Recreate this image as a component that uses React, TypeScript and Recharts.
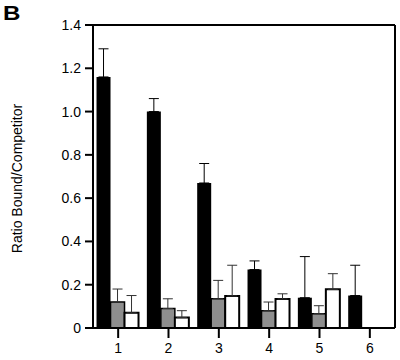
import { Bar, BarChart, ErrorBar, XAxis, YAxis } from "recharts";

const categories = ["1", "2", "3", "4", "5", "6"];
const blackValues = [1.16, 1.0, 0.67, 0.27, 0.14, 0.15];
const blackErrors = [0.13, 0.06, 0.09, 0.04, 0.19, 0.14];
const greyValues = [0.12, 0.09, 0.135, 0.08, 0.066, null];
const greyErrors = [0.06, 0.045, 0.085, 0.04, 0.037, null];
const whiteValues = [0.07, 0.048, 0.148, 0.134, 0.179, null];
const whiteErrors = [0.08, 0.032, 0.142, 0.024, 0.072, null];
const yTicks = [0, 0.2, 0.4, 0.6, 0.8, 1.0, 1.2, 1.4];

const data = categories.map((c, i) => ({
  name: c,
  black: blackValues[i],
  blackErr: [0, blackErrors[i]],
  grey: greyValues[i],
  greyErr: greyErrors[i] == null ? null : [0, greyErrors[i]],
  white: whiteValues[i],
  whiteErr: whiteErrors[i] == null ? null : [0, whiteErrors[i]],
}));

const FONT = "'Liberation Sans', Arial, Helvetica, sans-serif";
const tickStyle = { fill: "#000", fontSize: 14, fontFamily: FONT };
const line = { stroke: "#000", strokeWidth: 2 };

function YLabel({ viewBox }: any) {
  const cy = viewBox.y + viewBox.height / 2 + 2;
  return (
    <text
      x={17}
      y={cy}
      transform={`rotate(-90 17 ${cy})`}
      textAnchor="middle"
      dominantBaseline="central"
      fontSize={14}
      fontFamily={FONT}
      fill="#000"
    >
      Ratio Bound/Competitor
    </text>
  );
}

export default function App() {
  return (
    <div style={{ position: "absolute", left: 0, top: 0, width: 400, height: 360, background: "#fff" }}>
      <div
        style={{
          position: "absolute",
          left: 3,
          top: 1,
          fontFamily: FONT,
          fontWeight: "bold",
          fontSize: 21,
          lineHeight: "24px",
          transform: "scaleX(1.15)",
          transformOrigin: "left top",
        }}
      >
        B
      </div>
      <BarChart
        width={400}
        height={360}
        data={data}
        margin={{ top: 24, right: 4, left: 0, bottom: 0 }}
        barCategoryGap="7%"
        barGap={0}
      >
        <XAxis
          dataKey="name"
          interval={0}
          height={32}
          tickSize={10}
          tickMargin={5}
          tick={tickStyle}
          axisLine={line}
          tickLine={line}
        />
        <XAxis
          xAxisId="top"
          dataKey="name"
          orientation="top"
          height={1}
          tick={false}
          tickLine={false}
          axisLine={line}
        />
        <YAxis
          domain={[0, 1.4]}
          ticks={yTicks}
          width={93}
          tickSize={8}
          tickMargin={4}
          tick={tickStyle}
          axisLine={line}
          tickLine={line}
          tickFormatter={(v: number) => (v === 0 ? "0" : v.toFixed(1))}
          label={<YLabel />}
        />
        <YAxis
          yAxisId="right"
          type="number"
          domain={[0, 1.4]}
          orientation="right"
          width={1}
          tick={false}
          tickLine={false}
          axisLine={line}
        />
        <Bar dataKey="black" fill="#000" isAnimationActive={false}>
          <ErrorBar dataKey="blackErr" width={5} stroke="#000" strokeWidth={1} direction="y" />
        </Bar>
        <Bar dataKey="grey" fill="#8e8e8e" stroke="#000" strokeWidth={1.5} isAnimationActive={false}>
          <ErrorBar dataKey="greyErr" width={5} stroke="#333" strokeWidth={1} direction="y" />
        </Bar>
        <Bar dataKey="white" fill="#fff" stroke="#000" strokeWidth={2} isAnimationActive={false}>
          <ErrorBar dataKey="whiteErr" width={5} stroke="#333" strokeWidth={1} direction="y" />
        </Bar>
      </BarChart>
    </div>
  );
}
